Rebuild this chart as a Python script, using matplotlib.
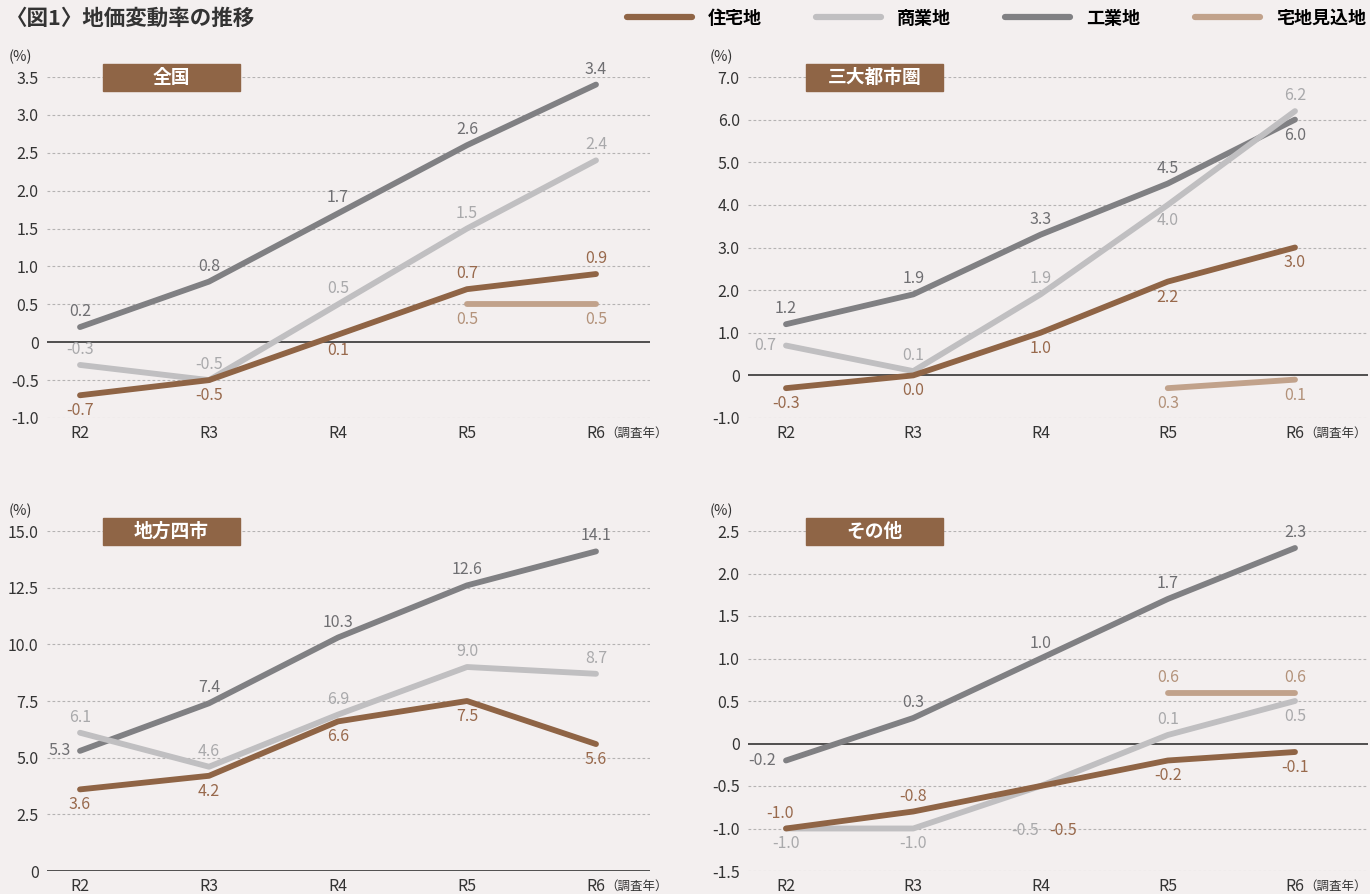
import numpy as np
import matplotlib
matplotlib.use("Agg")
import matplotlib.pyplot as plt
from matplotlib.lines import Line2D
from matplotlib.patches import Rectangle

plt.rcParams['font.family'] = ['Noto Sans CJK JP', 'DejaVu Sans']

# --- data ---
years = ["R2", "R3", "R4", "R5", "R6"]
series_names = ["住宅地", "商業地", "工業地", "宅地見込地"]
panel_names = ["全国", "三大都市圏", "地方四市", "その他"]

zenkoku_res = [-0.7, -0.5, 0.1, 0.7, 0.9]
zenkoku_com = [-0.3, -0.5, 0.5, 1.5, 2.4]
zenkoku_ind = [0.2, 0.8, 1.7, 2.6, 3.4]
zenkoku_mik = [None, None, None, 0.5, 0.5]

sandai_res = [-0.3, 0.0, 1.0, 2.2, 3.0]
sandai_com = [0.7, 0.1, 1.9, 4.0, 6.2]
sandai_ind = [1.2, 1.9, 3.3, 4.5, 6.0]
sandai_mik = [None, None, None, -0.3, -0.1]

chiho_res = [3.6, 4.2, 6.6, 7.5, 5.6]
chiho_com = [6.1, 4.6, 6.9, 9.0, 8.7]
chiho_ind = [5.3, 7.4, 10.3, 12.6, 14.1]
chiho_mik = [None, None, None, None, None]

sonota_res = [-1.0, -0.8, -0.5, -0.2, -0.1]
sonota_com = [-1.0, -1.0, -0.5, 0.1, 0.5]
sonota_ind = [-0.2, 0.3, 1.0, 1.7, 2.3]
sonota_mik = [None, None, None, 0.6, 0.6]

# printed labels differ from plotted values in the source for this one
sandai_mik_text = ["", "", "", "0.3", "0.1"]

y_ticks = [
    [3.5, 3.0, 2.5, 2.0, 1.5, 1.0, 0.5, 0, -0.5, -1.0],
    [7.0, 6.0, 5.0, 4.0, 3.0, 2.0, 1.0, 0, -1.0],
    [15.0, 12.5, 10.0, 7.5, 5.0, 2.5, 0],
    [2.5, 2.0, 1.5, 1.0, 0.5, 0, -0.5, -1.0, -1.5],
]

# --- style ---
BG = "#f3efef"
line_colors = ["#8f6445", "#c0bfc1", "#808083", "#c1a28b"]
text_colors = ["#98694c", "#a9a9ab", "#6f6f72", "#b3927a"]
BOX = "#8f6546"

# label placement: a=above, b=below, l=left, bl/br=far below left/right, al=above-left
place = [
    {"res": ["b", "b", "b", "a", "a"], "com": ["a"] * 5, "ind": ["a"] * 5, "mik": ["b"] * 5},
    {"res": ["b"] * 5, "com": ["l", "a", "a", "b", "a"], "ind": ["a", "a", "a", "a", "b"], "mik": ["b"] * 5},
    {"res": ["b"] * 5, "com": ["a"] * 5, "ind": ["l", "a", "a", "a", "a"], "mik": ["b"] * 5},
    {"res": ["al", "a", "br", "b", "b"], "com": ["b", "b", "bl", "a", "b"], "ind": ["l", "a", "a", "a", "a"], "mik": ["a"] * 5},
]

offsets = {
    "a": ((0, 5), "center", "bottom"),
    "b": ((0, -5), "center", "top"),
    "l": ((-7, 0), "right", "center"),
    "al": ((-4, 5), "center", "bottom"),
    "bl": ((-11, -26), "center", "top"),
    "br": ((16, -26), "center", "top"),
}

W, H = 1370, 894


def fx(px):
    return px / W


def fy(py):
    return 1 - py / H


# axes boxes in pixels: left, right, top, bottom, x of R2, x of R6
boxes = [
    (47, 650, 77, 418, 80, 596),
    (748, 1368, 77, 418, 786, 1295),
    (47, 650, 531, 871, 80, 596),
    (748, 1368, 531, 871, 786, 1295),
]

panel_data = [
    (zenkoku_res, zenkoku_com, zenkoku_ind, zenkoku_mik),
    (sandai_res, sandai_com, sandai_ind, sandai_mik),
    (chiho_res, chiho_com, chiho_ind, chiho_mik),
    (sonota_res, sonota_com, sonota_ind, sonota_mik),
]

fig = plt.figure(figsize=(13.7, 8.94), dpi=100)
fig.patch.set_facecolor(BG)

x = np.arange(len(years))
keys = ["res", "com", "ind", "mik"]
zorders = [4, 3, 2, 5]

for i, (box, data) in enumerate(zip(boxes, panel_data)):
    l, r, t, b, x0, x4 = box
    ax = fig.add_axes([fx(l), fy(b), fx(r) - fx(l), fy(t) - fy(b)])
    ax.set_facecolor(BG)
    step = (x4 - x0) / 4
    ax.set_xlim((l - x0) / step, (r - x0) / step)
    ticks = y_ticks[i]
    ax.set_ylim(min(ticks), max(ticks))
    for s in ax.spines.values():
        s.set_visible(False)
    ax.set_yticks(ticks)
    ax.set_yticklabels(["0" if v == 0 else f"{v:.1f}" for v in ticks])
    ax.set_xticks(x)
    ax.set_xticklabels(years)
    ax.tick_params(length=0, labelsize=11.5, colors="#333333")
    ax.tick_params(axis="y", pad=6)
    ax.tick_params(axis="x", pad=5)
    for v in ticks:
        if v == 0:
            ax.axhline(0, color="#333333", lw=1.2, zorder=1)
        else:
            ax.axhline(v, color="#b5b3b3", lw=0.8, ls=(0, (2.5, 2)), zorder=0)
    ax.annotate("（調査年）", (4, min(ticks)), xycoords="data",
                xytext=(7, -6), textcoords="offset points",
                ha="left", va="top", fontsize=9, color="#333333",
                annotation_clip=False)

    for k, vals in enumerate(data):
        y = np.array([np.nan if v is None else v for v in vals], dtype=float)
        if np.all(np.isnan(y)):
            continue
        ax.plot(x, y, color=line_colors[k], lw=4.2, solid_capstyle="round",
                solid_joinstyle="round", zorder=zorders[k])
        for j, v in enumerate(y):
            if np.isnan(v):
                continue
            if i == 1 and k == 3:
                txt = sandai_mik_text[j]
            else:
                txt = f"{v:.1f}"
            (dx, dy), ha, va = offsets[place[i][keys[k]][j]]
            ax.annotate(txt, (j, v), xytext=(dx, dy), textcoords="offset points",
                        ha=ha, va=va, fontsize=11.5, color=text_colors[k], zorder=6)

    # (%) unit
    fig.text(fx(l - 27), fy(t - 20), "(%)", ha="center", va="center",
             fontsize=10.5, color="#333333")

    # panel name box
    bx0, bx1 = (103, 240) if l < 700 else (806, 943)
    by0 = t - 13
    fig.patches.append(Rectangle((fx(bx0), fy(by0 + 27)), fx(bx1) - fx(bx0), fy(by0) - fy(by0 + 27),
                                 transform=fig.transFigure, color=BOX, zorder=10))
    fig.text(fx((bx0 + bx1) / 2), fy(by0 + 13.5), panel_names[i], ha="center", va="center",
             fontsize=13.5, color="white", weight="bold", zorder=11)

# title
fig.text(fx(6), fy(18), "〈図1〉地価変動率の推移", ha="left", va="center",
         fontsize=15.5, weight="bold", color="#333333")

# legend
handles = [Line2D([], [], color=c, lw=4.5, solid_capstyle="round") for c in line_colors]
fig.legend(handles, series_names, loc="center right", bbox_to_anchor=(fx(1366), fy(18)),
           ncol=4, frameon=False, handlelength=3.6, handletextpad=0.9, columnspacing=3.0,
           borderaxespad=0, borderpad=0,
           prop={"weight": "bold", "size": 13})

fig.savefig("out.png", dpi=100, facecolor=BG)
